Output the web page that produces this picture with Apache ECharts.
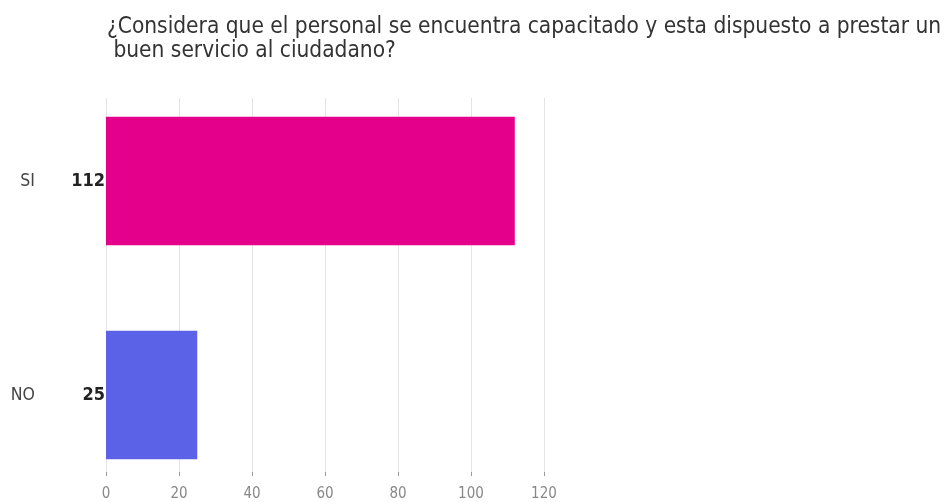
<!DOCTYPE html>
<html>
<head>
<meta charset="utf-8">
<script src="https://cdn.jsdelivr.net/npm/echarts@6/dist/echarts.min.js"></script>
<style>
html,body{margin:0;padding:0;background:#fff;}
#chart{width:945px;height:502px;}
</style>
</head>
<body>
<div id="chart"></div>
<script>
var titleText = "¿Considera que el personal se encuentra capacitado y esta dispuesto a prestar un\n buen servicio al ciudadano?";
var categories = ["SI", "NO"];
var values = [112, 25];
var barColors = ["#E5008B", "#5B62E8"];
var xMin = 0, xMax = 120, xInterval = 20;

var FONT = "'DejaVu Sans Condensed', 'DejaVu Sans', sans-serif";
var chart = echarts.init(document.getElementById('chart'), null, {renderer: 'canvas'});
chart.setOption({
  animation: false,
  backgroundColor: '#ffffff',
  title: {
    text: titleText,
    left: 102,
    top: 10,
    textStyle: {fontFamily: FONT, fontSize: 22.5, fontWeight: 'normal', color: '#333', lineHeight: 24}
  },
  grid: [
    {left: 106, width: 438, top: 98, height: 375, containLabel: false},
    {left: 106, width: 438, top: 74, height: 428, containLabel: false}
  ],
  xAxis: [
    {
      gridIndex: 0, type: 'value', min: xMin, max: xMax, interval: xInterval,
      offset: 9,
      axisLine: {show: false},
      axisTick: {show: true, length: 4, lineStyle: {color: '#999'}},
      axisLabel: {margin: 6, fontFamily: FONT, fontSize: 15, color: '#888'},
      splitLine: {show: true, lineStyle: {color: '#e4e4e4', width: 1}}
    },
    {
      gridIndex: 1, type: 'value', min: xMin, max: xMax, interval: xInterval,
      show: false, splitLine: {show: false}
    }
  ],
  yAxis: [
    {gridIndex: 0, type: 'value', show: false, splitLine: {show: false}},
    {
      gridIndex: 1, type: 'category', data: categories, inverse: true,
      axisLine: {show: false}, axisTick: {show: false},
      axisLabel: {margin: 71, fontFamily: FONT, fontSize: 17.5, color: '#444'}
    }
  ],
  series: [{
    type: 'bar',
    xAxisIndex: 1, yAxisIndex: 1,
    barCategoryGap: '40%',
    data: values.map(function (v, i) {
      return {value: v, itemStyle: {color: barColors[i]}};
    }),
    label: {
      show: true, position: 'left', distance: 1,
      fontFamily: FONT, fontSize: 18, fontWeight: 'bold', color: '#222'
    }
  }]
});
</script>
</body>
</html>
